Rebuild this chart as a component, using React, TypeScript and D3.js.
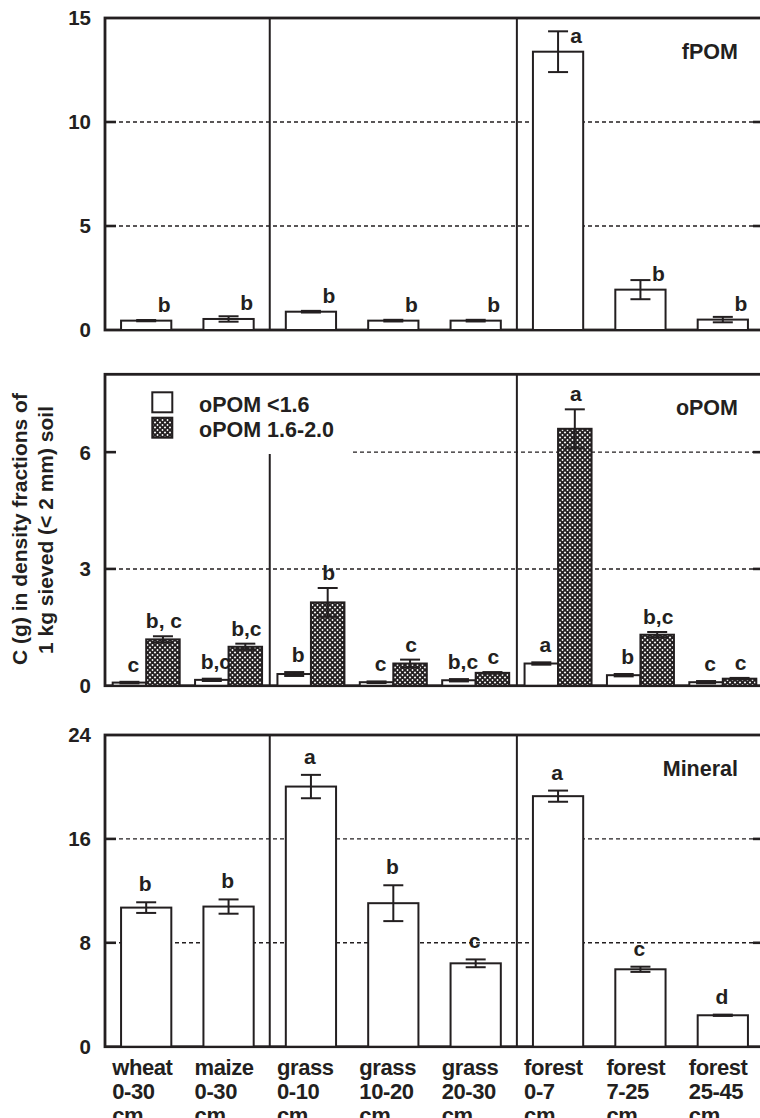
import * as d3 from "d3";

// categories along the x axis
const crops = ["wheat", "maize", "grass", "grass", "grass", "forest", "forest", "forest"];
const depths = ["0-30", "0-30", "0-10", "10-20", "20-30", "0-7", "7-25", "25-45"];

// fPOM
const fpomMean = [0.45, 0.53, 0.88, 0.45, 0.45, 13.38, 1.94, 0.5];
const fpomErr = [0.03, 0.13, 0.04, 0.04, 0.04, 0.98, 0.46, 0.13];
const fpomLetters = ["b", "b", "b", "b", "b", "a", "b", "b"];

// oPOM, two density classes
const opomLightMean = [0.08, 0.15, 0.3, 0.09, 0.14, 0.57, 0.27, 0.09];
const opomLightErr = [0.02, 0.03, 0.05, 0.02, 0.03, 0.03, 0.03, 0.03];
const opomLightLetters = ["c", "b,c", "b", "c", "b,c", "a", "b", "c"];
const opomHeavyMean = [1.19, 1.0, 2.14, 0.57, 0.33, 6.6, 1.31, 0.18];
const opomHeavyErr = [0.08, 0.08, 0.37, 0.1, 0.02, 0.5, 0.07, 0.02];
const opomHeavyLetters = ["b, c", "b,c", "b", "c", "c", "a", "b,c", "c"];

// mineral
const mineralMean = [10.71, 10.79, 20.03, 11.05, 6.42, 19.29, 5.96, 2.42];
const mineralErr = [0.41, 0.55, 0.9, 1.38, 0.3, 0.43, 0.2, 0.05];
const mineralLetters = ["b", "b", "a", "b", "c", "a", "c", "d"];

const fpomTicks = [0, 5, 10, 15];
const opomTicks = [0, 3, 6];
const mineralTicks = [0, 8, 16, 24];

const legendLabels = ["oPOM <1.6", "oPOM 1.6-2.0"];

const ink = "#231f20";
const font = "'Liberation Sans', Arial, Helvetica, sans-serif";
const idx = d3.range(crops.length);

const x = d3
  .scaleBand<number>()
  .domain(idx)
  .range([105, 764])
  .paddingInner(0.39)
  .paddingOuter(0.195);
const center = (i: number) => (x(i) as number) + x.bandwidth() / 2;
const sub = d3.scaleBand<number>().domain([0, 1]).range([-33.5, 33.5]);
// separators between land uses
const sepX = [2, 5].map((i) => (x(i) as number) - (x.step() * x.paddingInner()) / 2);

const left = 105;
const right = 764;

function ErrorBar({ cx, y, v, e }: any) {
  return (
    <g stroke={ink} strokeWidth={2}>
      <line x1={cx} x2={cx} y1={y(v - e)} y2={y(v + e)} />
      <line x1={cx - 10} x2={cx + 10} y1={y(v + e)} y2={y(v + e)} />
      <line x1={cx - 10} x2={cx + 10} y1={y(v - e)} y2={y(v - e)} />
    </g>
  );
}

function Frame({ y, ticks, grid, legendCut }: any) {
  const [bottom, top] = y.range();
  return (
    <g>
      {grid.map((t: number) => (
        <line
          key={"g" + t}
          x1={legendCut && t === 6 ? 353 : left}
          x2={right}
          y1={y(t)}
          y2={y(t)}
          stroke={ink}
          strokeWidth={1.4}
          strokeDasharray="4,3"
        />
      ))}
      {ticks.map((t: number) => (
        <text
          key={"t" + t}
          x={91}
          y={y(t)}
          dy="0.36em"
          textAnchor="end"
          fontSize={20.5}
          fontWeight="bold"
          fill={ink}
        >
          {t}
        </text>
      ))}
      <rect
        x={left}
        y={top}
        width={right - left}
        height={bottom - top}
        fill="none"
        stroke={ink}
        strokeWidth={2.8}
      />
    </g>
  );
}

function Ticks({ y, ticks }: any) {
  return (
    <g stroke={ink} strokeWidth={2.6}>
      {ticks.map((t: number) => (
        <g key={t}>
          <line x1={left} x2={left + 11} y1={y(t)} y2={y(t)} />
          <line x1={right - 11} x2={right} y1={y(t)} y2={y(t)} />
        </g>
      ))}
    </g>
  );
}

export default function App() {
  const yTop = d3.scaleLinear().domain([0, 15]).range([330, 18]);
  const yMid = d3.scaleLinear().domain([0, 8]).range([685.7, 374.3]);
  const yBot = d3.scaleLinear().domain([0, 24]).range([1046.7, 735]);

  const letterStyle = { fontSize: 21, fontWeight: "bold" as const, fill: ink, textAnchor: "middle" as const };

  return (
    <svg
      width={760}
      height={1118}
      style={{ position: "absolute", left: 0, top: 0, background: "#fff" }}
      fontFamily={font}
    >
      <defs>
        <pattern id="xhatch" width={5} height={5} patternUnits="userSpaceOnUse">
          <rect width={5} height={5} fill="#fff" />
          <path d="M0,0L5,5M5,0L0,5" stroke={ink} strokeWidth={1.9} />
        </pattern>
      </defs>

      {/* fPOM panel */}
      <Frame y={yTop} ticks={fpomTicks} grid={[5, 10]} />
      {idx.map((i) => (
        <g key={"f" + i}>
          <rect
            x={x(i)}
            y={yTop(fpomMean[i])}
            width={x.bandwidth()}
            height={yTop(0) - yTop(fpomMean[i])}
            fill="#fff"
            stroke={ink}
            strokeWidth={2}
          />
          <ErrorBar cx={center(i)} y={yTop} v={fpomMean[i]} e={fpomErr[i]} />
          <text x={center(i) + 18} y={yTop(fpomMean[i]) - 9} style={letterStyle}>
            {fpomLetters[i]}
          </text>
        </g>
      ))}
      {sepX.map((sx) => (
        <line key={sx} x1={sx} x2={sx} y1={18} y2={330} stroke={ink} strokeWidth={2} />
      ))}
      <Ticks y={yTop} ticks={[5, 10]} />
      <text x={738} y={59} textAnchor="end" fontSize={21.5} fontWeight="bold" fill={ink}>
        fPOM
      </text>

      {/* oPOM panel */}
      <Frame y={yMid} ticks={opomTicks} grid={[3, 6]} legendCut />
      {idx.map((i) => {
        const cL = center(i) + (sub(0) as number) + sub.bandwidth() / 2;
        const cH = center(i) + (sub(1) as number) + sub.bandwidth() / 2;
        return (
          <g key={"o" + i}>
            <rect
              x={center(i) + (sub(0) as number)}
              y={yMid(opomLightMean[i])}
              width={sub.bandwidth()}
              height={yMid(0) - yMid(opomLightMean[i])}
              fill="#fff"
              stroke={ink}
              strokeWidth={2}
            />
            <rect
              x={center(i) + (sub(1) as number)}
              y={yMid(opomHeavyMean[i])}
              width={sub.bandwidth()}
              height={yMid(0) - yMid(opomHeavyMean[i])}
              fill="url(#xhatch)"
              stroke={ink}
              strokeWidth={2}
            />
            <ErrorBar cx={cL} y={yMid} v={opomLightMean[i]} e={opomLightErr[i]} />
            <ErrorBar cx={cH} y={yMid} v={opomHeavyMean[i]} e={opomHeavyErr[i]} />
            <text x={cL + 4} y={yMid(opomLightMean[i] + opomLightErr[i]) - 10} style={letterStyle}>
              {opomLightLetters[i]}
            </text>
            <text x={cH + 1} y={yMid(opomHeavyMean[i] + opomHeavyErr[i]) - 8} style={letterStyle}>
              {opomHeavyLetters[i]}
            </text>
          </g>
        );
      })}
      <line x1={sepX[0]} x2={sepX[0]} y1={454} y2={685.7} stroke={ink} strokeWidth={2} />
      <line x1={sepX[1]} x2={sepX[1]} y1={374.3} y2={685.7} stroke={ink} strokeWidth={2} />
      <Ticks y={yMid} ticks={[3, 6]} />
      <g>
        <rect x={152.3} y={392.3} width={20} height={20} fill="#fff" stroke={ink} strokeWidth={2} />
        <rect x={152.3} y={417.7} width={20} height={20} fill="url(#xhatch)" stroke={ink} strokeWidth={2} />
        {legendLabels.map((l, k) => (
          <text key={l} x={199} y={411.5 + k * 25.5} fontSize={21.5} fontWeight="bold" fill={ink}>
            {l}
          </text>
        ))}
      </g>
      <text x={738} y={415} textAnchor="end" fontSize={21.5} fontWeight="bold" fill={ink}>
        oPOM
      </text>

      {/* Mineral panel */}
      <Frame y={yBot} ticks={mineralTicks} grid={[8, 16]} />
      {idx.map((i) => (
        <g key={"m" + i}>
          <rect
            x={x(i)}
            y={yBot(mineralMean[i])}
            width={x.bandwidth()}
            height={yBot(0) - yBot(mineralMean[i])}
            fill="#fff"
            stroke={ink}
            strokeWidth={2}
          />
          <ErrorBar cx={center(i)} y={yBot} v={mineralMean[i]} e={mineralErr[i]} />
          <text x={center(i) - 1} y={yBot(mineralMean[i] + mineralErr[i]) - 11} style={letterStyle}>
            {mineralLetters[i]}
          </text>
        </g>
      ))}
      {sepX.map((sx) => (
        <line key={"b" + sx} x1={sx} x2={sx} y1={735} y2={1046.7} stroke={ink} strokeWidth={2} />
      ))}
      <Ticks y={yBot} ticks={[8, 16]} />
      <text x={738} y={776} textAnchor="end" fontSize={21.5} fontWeight="bold" fill={ink}>
        Mineral
      </text>

      {/* category labels, three lines each; the last one runs off the page as in the source */}
      {idx.map((i) =>
        [crops[i], depths[i], "cm"].map((line, k) => (
          <text
            key={"c" + i + k}
            x={center(i) - 34}
            y={1075 + k * 24}
            fontSize={22}
            letterSpacing={-0.4}
            fontWeight="bold"
            fill={ink}
          >
            {line}
          </text>
        ))
      )}

      {/* y axis title */}
      <text transform="translate(27,529) rotate(-90)" textAnchor="middle" fontSize={21} fontWeight="bold" fill={ink}>
        C (g) in density fractions of
      </text>
      <text transform="translate(53,530) rotate(-90)" textAnchor="middle" fontSize={21} fontWeight="bold" fill={ink}>
        1 kg sieved (&lt; 2 mm) soil
      </text>
    </svg>
  );
}
